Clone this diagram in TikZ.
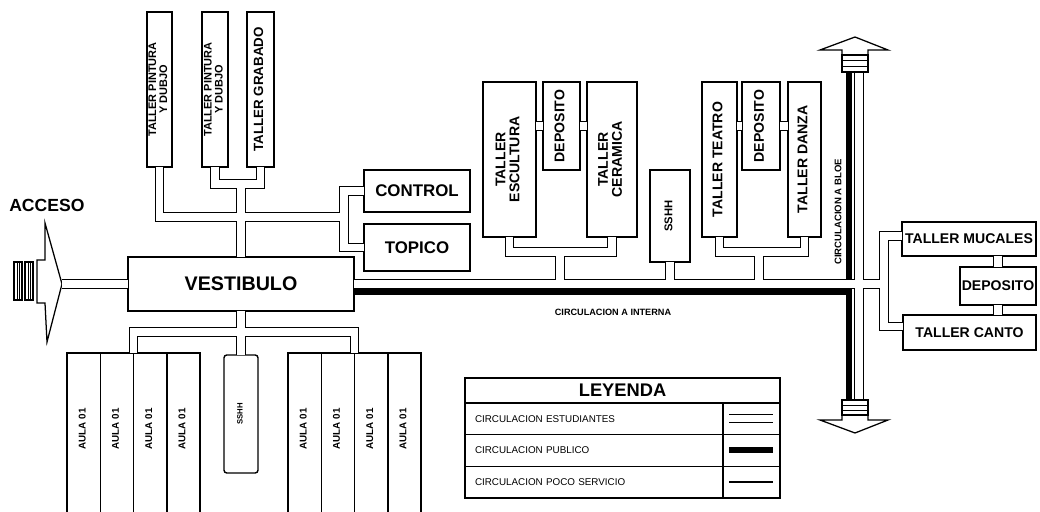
\documentclass[tikz,border=0pt]{standalone}
\usepackage{fontspec}
\setmainfont{Liberation Sans}
\usepackage{graphicx}
\usetikzlibrary{positioning,calc}

\newcommand{\vt}[1]{\rotatebox{90}{\begin{tabular}{@{}c@{}}#1\end{tabular}}}
\newcommand{\fs}[1]{\fontsize{#1}{#1}\selectfont\bfseries}

\begin{document}
\begin{tikzpicture}[x=0.025cm, y=-0.025cm,
  caja/.style={draw, line width=1pt, rectangle, inner sep=0pt, outer sep=0pt, align=center},
  aula/.style={caja, minimum width=0.832cm, minimum height=4.2cm, font=\fs{7}},
  fila/.style={caja, minimum width=7.875cm, minimum height=0.79cm, text width=7.375cm, align=left, font=\fontsize{7}{8}\selectfont},
  corr/.style={draw=white, line width=5pt, preaction={draw=black, line width=6.6pt}},
  publico/.style={draw=black, line width=4.3pt},
  poco/.style={draw=black, line width=0.9pt}]
\useasboundingbox (0,0) rectangle (1040,512);

% acceso y vestibulo
\node[caja, minimum width=5.65cm, minimum height=1.35cm, font=\fs{14}] (vest) at (241,284) {VESTIBULO};
\node[anchor=west, inner sep=0pt, font=\fs{12.5}] (acceso) at (9,205) {ACCESO};
\coordinate (acc) at (62,284);
\draw[line width=0.9pt] (45,223) -- (acc) -- (47,342) -- (45,303) -- (37,303) -- (37,260) -- (45,260) -- cycle;
\draw[line width=0.8pt] (14,262) rectangle (22,300) (25,262) rectangle (33,300);
\foreach \x in {17,19,28,30} \draw (\x,262) -- (\x,300);

% talleres superiores
\node[caja, minimum width=0.625cm, minimum height=3.875cm, font=\fs{7.8}] (pint1) at (159.5,89.5) {\vt{TALLER PINTURA\\Y DUBJO}};
\node[caja, minimum width=0.65cm, minimum height=3.875cm, font=\fs{7.8}] (pint2) at (215,89.5) {\vt{TALLER PINTURA\\Y DUBJO}};
\node[caja, minimum width=0.675cm, minimum height=3.875cm, font=\fs{9.5}] (grab) at (260.5,89.5) {\vt{TALLER GRABADO}};
\node[caja, minimum width=2.65cm, minimum height=1.05cm, font=\fs{12}] (control) at (417,191) {CONTROL};
\node[caja, minimum width=2.65cm, minimum height=1.175cm, font=\fs{12}, below=0.3cm of control] (topico) {TOPICO};

% talleres centrales
\node[caja, minimum width=1.325cm, minimum height=3.875cm, font=\fs{10}] (escul) at (509.5,159.5) {\vt{TALLER\\ESCULTURA}};
\node[caja, minimum width=0.925cm, minimum height=2.2cm, font=\fs{10}, anchor=north west] (dep1) at (543,82) {\vt{DEPOSITO}};
\node[caja, minimum width=1.25cm, minimum height=3.875cm, font=\fs{10}] (ceram) at (612,159.5) {\vt{TALLER\\CERAMICA}};
\node[caja, minimum width=1cm, minimum height=2.3cm, font=\fs{8}] (sshh1) at (670,216) {\vt{SSHH}};
\node[caja, minimum width=0.875cm, minimum height=3.875cm, font=\fs{10}] (teatro) at (719.5,159.5) {\vt{TALLER TEATRO}};
\node[caja, minimum width=0.95cm, minimum height=2.2cm, font=\fs{10}, anchor=north west] (dep2) at (742,82) {\vt{DEPOSITO}};
\node[caja, minimum width=0.825cm, minimum height=3.875cm, font=\fs{10}] (danza) at (804.5,159.5) {\vt{TALLER DANZA}};

% talleres derecha
\node[caja, minimum width=3.35cm, minimum height=0.85cm, font=\fs{10}] (mucal) at (969,239) {TALLER MUCALES};
\node[caja, minimum width=1.9cm, minimum height=0.95cm, font=\fs{10}] (dep3) at (998,286) {DEPOSITO};
\node[caja, minimum width=3.325cm, minimum height=0.875cm, font=\fs{10}] (canto) at (969.5,332.5) {TALLER CANTO};

% aulas
\node[aula, anchor=north west] (aula1) at (67,353) {\vt{\hspace{0.4cm}AULA 01}};
\foreach \i [count=\j from 2] in {1,2,3}
  \node[aula, right=0pt of aula\i] (aula\j) {\vt{\hspace{0.4cm}AULA 01}};
\node[aula, anchor=north west] (aula5) at (288,353) {\vt{\hspace{0.4cm}AULA 01}};
\foreach \i [count=\j from 6] in {5,6,7}
  \node[aula, right=0pt of aula\i] (aula\j) {\vt{\hspace{0.4cm}AULA 01}};
\node[caja, rounded corners=2pt, minimum width=0.85cm, minimum height=2.95cm, font=\fs{5.5}] (sshh2) at (241,414) {\vt{SSHH}};

% circulaciones
\coordinate (jp) at (241,184);
\coordinate (jc) at (344,217);
\coordinate (je) at (560,252);
\coordinate (jt) at (759,252);
\coordinate (spN) at (859,72);
\coordinate (spS) at (859,400);
\coordinate (pubN) at (849,72);
\coordinate (pubS) at (849,400);
\coordinate (jr) at (884,284);
\coordinate (jv) at (241,332);
\coordinate (jl) at (aula2.north east |- jv);
\coordinate (jd) at (aula6.north east |- jv);
\coordinate (pubW) at ($(vest.east)+(0,8)$);

\draw[publico] (pubW) -- (pubW -| pubN) (pubN) -- (pubS);

\draw[corr]
  (acc) -- (vest.west)
  (pint1.south) |- (jc)
  (control.west) -| (jc) |- (topico.west)
  (pint2.south) |- (jp) -| (grab.south)
  (jp) -- (vest.north)
  (vest.east) -- (vest.east -| spN)
  (spN) -- (spS)
  (vest.east -| spN) -- (jr)
  ($(mucal.west)+(0,-3)$) -| (jr) |- ($(canto.west)+(0,-6)$)
  (escul.south) |- (je) -| (ceram.south)
  (je) -- (je |- vest.east)
  (sshh1.south) -- (sshh1.south |- vest.east)
  (teatro.south) |- (jt) -| (danza.south)
  (jt) -- (jt |- vest.east)
  (escul.east |- dep1.west) -- (dep1.west)
  (dep1.east) -- (ceram.west |- dep1.east)
  (teatro.east |- dep2.west) -- (dep2.west)
  (dep2.east) -- (danza.west |- dep2.east)
  (mucal.south -| dep3.north) -- (dep3.north)
  (dep3.south) -- (dep3.south |- canto.north)
  (vest.south) -- (jv)
  (aula2.north east) -- (jl) -- (jd) -- (aula6.north east)
  (jv) -- (sshh2.north);

% remates de la circulacion vertical
\draw[line width=0.9pt, fill=white] (842,55) rectangle (868,72) (842,400) rectangle (868,415);
\foreach \y in {60,66,405,410} \draw (842,\y) -- (868,\y);
\draw[line width=0.9pt] (842,55) -- (842,50) -- (820,50) -- (855,37) -- (888,50) -- (868,50) -- (868,55);
\draw[line width=0.9pt] (842,415) -- (842,420) -- (820,420) -- (855,433) -- (888,420) -- (868,420) -- (868,415);

\node[font=\fs{6.5}] (cint) at (613,312) {CIRCULACION A INTERNA};
\node[font=\fs{6.8}] (cblq) at (838,212) {\rotatebox{90}{CIRCULACION A BLOE}};

% leyenda
\node[caja, minimum width=7.875cm, minimum height=0.625cm, anchor=north west, font=\fs{13}] (leytit) at (465,378) {LEYENDA};
\node[fila, below=0pt of leytit] (fila1) {CIRCULACION ESTUDIANTES};
\node[fila, below=0pt of fila1] (fila2) {CIRCULACION PUBLICO};
\node[fila, below=0pt of fila2] (fila3) {CIRCULACION POCO SERVICIO};
\coordinate (div) at (723,378);
\draw[line width=1pt] (div |- fila1.north) -- (div |- fila3.south);
\draw[corr] ($(div |- fila1)+(6,0)$) -- ($(div |- fila1)+(50,0)$);
\draw[publico] ($(div |- fila2)+(6,0)$) -- ($(div |- fila2)+(50,0)$);
\draw[poco] ($(div |- fila3)+(6,0)$) -- ($(div |- fila3)+(50,0)$);
\end{tikzpicture}
\end{document}
